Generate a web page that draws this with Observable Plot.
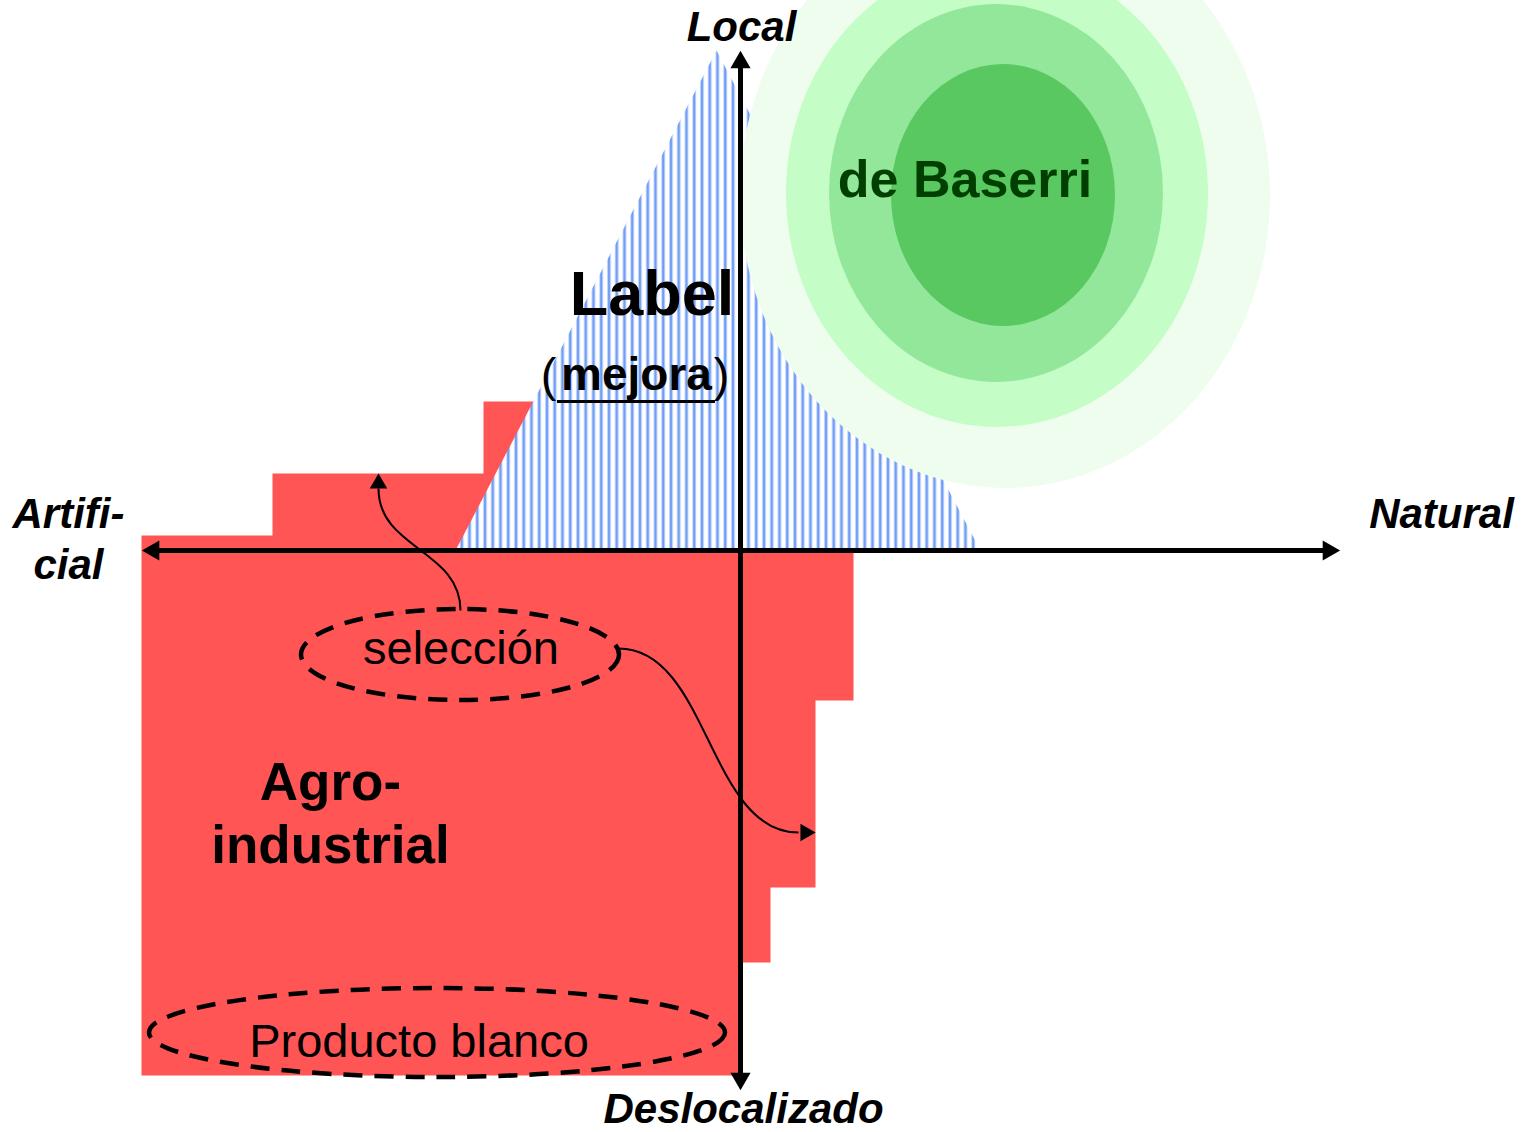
<!DOCTYPE html>
<html>
<head>
<meta charset="utf-8">
<script src="https://cdn.jsdelivr.net/npm/d3@7"></script>
<script src="https://cdn.jsdelivr.net/npm/@observablehq/plot@0.6"></script>
<style>
  body { margin: 0; background: #ffffff; overflow: hidden; }
  #chart svg { display: block; }
</style>
</head>
<body>
<div id="chart"></div>
<script>
// Coordinate system: origin at the crossing of the two axes.
// x: Artificial (-) ... Natural (+);  y: Deslocalizado (-) ... Local (+)

// Agro-industrial zone (red stepped region)
const agroZone = [
  {x: -599, y: 15}, {x: -468, y: 15}, {x: -468, y: 77}, {x: -257, y: 77},
  {x: -257, y: 149}, {x: -200, y: 149}, {x: -278, y: 0}, {x: 113, y: 0},
  {x: 113, y: -150}, {x: 75, y: -150}, {x: 75, y: -337}, {x: 30, y: -337},
  {x: 30, y: -412}, {x: 0, y: -412}, {x: 0, y: -525}, {x: -599, y: -525}
];

// Label (mejora) zone: triangle
const labelZone = [
  {x: -285, y: 0}, {x: -24, y: 500}, {x: 240, y: 0}
];

// "de Baserri" concentric rings (outer to inner)
const baserriRings = [
  {cx: 265, cy: 355, rx: 265, ry: 293},
  {cx: 257, cy: 357, rx: 211, ry: 234},
  {cx: 256, cy: 357, rx: 167, ry: 189},
  {cx: 263, cy: 355, rx: 112, ry: 131}
];
const ringColors = ["#effdef", "#c4fdc5", "#93e79b", "#59c860"];

// Dashed ellipses
const dashedGroups = [
  {name: "selección", cx: -280, cy: -104.5, rx: 159, ry: 45.5},
  {name: "Producto blanco", cx: -303, cy: -482.5, rx: 288, ry: 44.5}
];

// Axes
const axisLines = [
  {x1: -590, y1: 0, x2: 590, y2: 0},
  {x1: 0, y1: 490, x2: 0, y2: -530}
];
const axisHeads = [
  {x: -587, y: 0, angle: -90},
  {x: 588, y: 0, angle: 90},
  {x: 0, y: 488, angle: 0},
  {x: 0, y: -528, angle: 180}
];
const axisLabels = [
  {text: "Local", x: 1, y: 526},
  {text: "Natural", x: 701, y: 39},
  {text: "Artifi-\ncial", x: -672, y: 13},
  {text: "Deslocalizado", x: 3, y: -556}
];

// Connectors from "selección"
const linkUp = [{x1: -280, y1: -60, x2: -362, y2: 62}];
const linkRight = [{x1: -122, y1: -98, x2: 58, y2: -282}];
const linkHeads = [
  {x: -362, y: 67, angle: 0},
  {x: 65, y: -282, angle: 90}
];

// Zone labels
const labelTitle = [{text: "Label", x: -88.5, y: 256}];
const agroTitle = [{text: "Agro-\nindustrial", x: -410, y: -260.5}];
const mejoraParens = [
  {text: "(", x: -192, y: 175},
  {text: ")", x: -19, y: 175}
];
const mejoraWord = [{text: "mejora", x: -104, y: 175}];
const underline = [{x1: -183, x2: -25, y: 149}];
const baserriLabel = [{text: "de Baserri", x: 224.5, y: 370}];
const groupLabels = [
  {text: "selección", x: -279.5, y: -98},
  {text: "Producto blanco", x: -321.5, y: -491}
];

const FONT = "'Liberation Sans', Arial, Helvetica, sans-serif";

function defsMark() {
  return () => {
    const g = d3.create("svg:g");
    const p = g.append("defs").append("pattern")
      .attr("id", "hatch")
      .attr("patternUnits", "userSpaceOnUse")
      .attr("width", 7.75).attr("height", 8);
    p.append("rect").attr("width", 7.75).attr("height", 8).attr("fill", "#ffffff");
    p.append("rect").attr("x", 2).attr("width", 4).attr("height", 8).attr("fill", "#c2d6fc");
    p.append("rect").attr("x", 3).attr("width", 2).attr("height", 8).attr("fill", "#6d9cf6");
    return g.node();
  };
}

function ellipseMark(data, opts) {
  return (index, scales) => {
    const g = d3.create("svg:g");
    data.forEach((d, i) => {
      const cx = scales.x(d.cx), cy = scales.y(d.cy);
      const e = g.append("ellipse")
        .attr("cx", cx).attr("cy", cy)
        .attr("rx", Math.abs(scales.x(d.cx + d.rx) - cx))
        .attr("ry", Math.abs(scales.y(d.cy + d.ry) - cy))
        .attr("fill", opts.fills ? opts.fills[i] : "none");
      if (opts.stroke) {
        e.attr("stroke", opts.stroke)
         .attr("stroke-width", opts.strokeWidth)
         .attr("stroke-dasharray", opts.dash);
      }
    });
    return g.node();
  };
}

const chart = Plot.plot({
  width: 1524,
  height: 1132,
  margin: 0,
  x: {domain: [-740, 784], axis: null},
  y: {domain: [-582, 550], axis: null},
  style: {background: "#ffffff", overflow: "hidden"},
  marks: [
    defsMark(),
    Plot.line(agroZone, {x: "x", y: "y", fill: "#ff5555", stroke: "none"}),
    Plot.line(labelZone, {x: "x", y: "y", fill: "url(#hatch)", stroke: "none"}),
    ellipseMark(baserriRings, {fills: ringColors}),
    Plot.text(labelTitle, {x: "x", y: "y", text: "text", fontSize: 63, fontWeight: "bold", fontFamily: FONT, fill: "#000"}),
    Plot.text(agroTitle, {x: "x", y: "y", text: "text", fontSize: 53, fontWeight: "bold", fontFamily: FONT, fill: "#000", lineHeight: 1.19}),
    Plot.text(mejoraParens, {x: "x", y: "y", text: "text", fontSize: 47, fontFamily: FONT, fill: "#000"}),
    Plot.text(mejoraWord, {x: "x", y: "y", text: "text", fontSize: 46, fontWeight: "bold", fontFamily: FONT, fill: "#000"}),
    Plot.ruleY(underline, {y: "y", x1: "x1", x2: "x2", stroke: "#000", strokeWidth: 3}),
    Plot.text(baserriLabel, {x: "x", y: "y", text: "text", fontSize: 52, fontWeight: "bold", fontFamily: FONT, fill: "#003f00"}),
    ellipseMark(dashedGroups, {stroke: "#000", strokeWidth: 4.5, dash: "19,12"}),
    Plot.text(groupLabels, {x: "x", y: "y", text: "text", fontSize: 47, fontFamily: FONT, fill: "#000"}),
    Plot.link(linkUp, {x1: "x1", y1: "y1", x2: "x2", y2: "y2", curve: "bump-y", stroke: "#000", strokeWidth: 2}),
    Plot.link(linkRight, {x1: "x1", y1: "y1", x2: "x2", y2: "y2", curve: "bump-x", stroke: "#000", strokeWidth: 2}),
    Plot.dot(linkHeads, {x: "x", y: "y", rotate: "angle", symbol: "triangle", r: 6.5, fill: "#000", stroke: "none"}),
    Plot.link(axisLines, {x1: "x1", y1: "y1", x2: "x2", y2: "y2", stroke: "#000", strokeWidth: 5}),
    Plot.dot(axisHeads, {x: "x", y: "y", rotate: "angle", symbol: "triangle", r: 7.5, fill: "#000", stroke: "none"}),
    Plot.text(axisLabels, {x: "x", y: "y", text: "text", fontSize: 42, fontWeight: "bold", fontStyle: "italic", fontFamily: FONT, fill: "#000", lineHeight: 1.214})
  ]
});

document.getElementById("chart").appendChild(chart);
</script>
</body>
</html>
